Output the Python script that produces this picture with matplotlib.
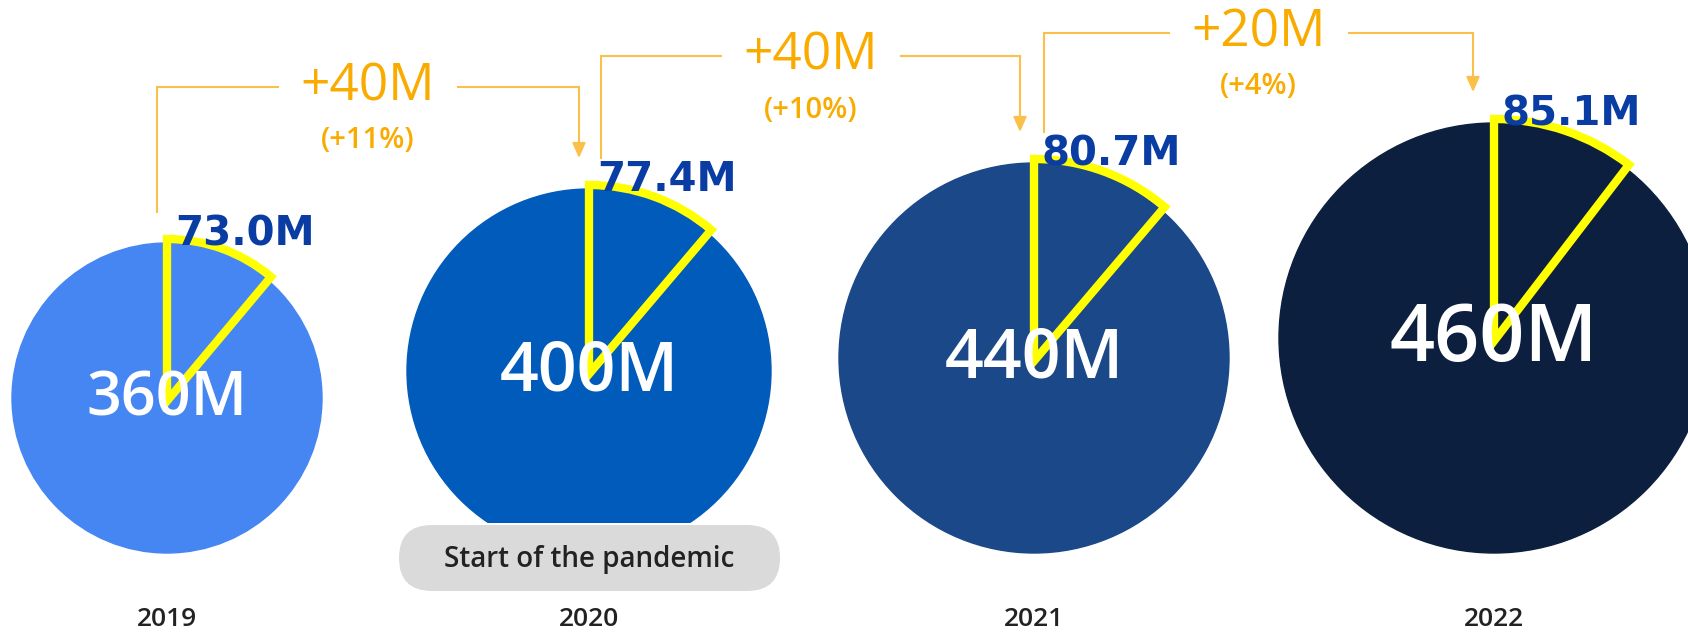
import matplotlib
matplotlib.use('Agg')
import matplotlib.pyplot as plt
from matplotlib.patches import Circle, Wedge, Rectangle, FancyBboxPatch

# data
years = ['2019', '2020', '2021', '2022']
users = [360, 400, 440, 460]              # total, millions
slice_values = [73.0, 77.4, 80.7, 85.1]   # highlighted slice, millions
slice_share = [0.111, 0.112, 0.112, 0.104]  # share of the circle the slice covers
growth_pct = ['(+11%)', '(+10%)', '(+4%)']
note = 'Start of the pandemic'

# layout (pixels, y pointing down)
W, H = 1688, 634
cx = [167, 589, 1034, 1494]
rad = [155, 182, 195, 215]
base = 553
cy = [base - r for r in rad]
label_pt = [44, 49, 49, 57]
circle_colors = ['#4586F3', '#005BBB', '#1A4888', '#0C1F3E']
bracket_y = [87, 56, 33]

ORANGE = '#F9AB00'
LINE = '#FBC04A'
NAVY = '#0A3DA3'
SANS = ['Open Sans', 'DejaVu Sans']

fig = plt.figure(figsize=(W / 100, H / 100), dpi=100)
ax = fig.add_axes([0, 0, 1, 1])
ax.set_xlim(0, W)
ax.set_ylim(H, 0)
ax.axis('off')

for i in range(len(years)):
    c = Circle((cx[i], cy[i]), rad[i], color=circle_colors[i], zorder=1)
    ax.add_patch(c)
    if i == 1:
        # pandemic pill cuts the bottom of the 2020 circle
        c.set_clip_path(Rectangle((0, 0), W, 523, transform=ax.transData))

    deg = slice_share[i] * 360
    ax.add_patch(Wedge((cx[i], cy[i] + 3), rad[i] + 7, 270, 270 + deg,
                       facecolor='none', edgecolor='#FFFF00', lw=6,
                       joinstyle='miter', zorder=2))

    ax.text(cx[i], cy[i] + 2, f'{users[i]}M', color='white', fontsize=label_pt[i],
            fontweight='semibold', family=SANS, ha='center', va='center', zorder=3)
    ax.text(cx[i] + 8, cy[i] - rad[i] + 2, f'{slice_values[i]:.1f}M', color=NAVY,
            fontsize=29, fontweight='bold', family='DejaVu Sans',
            ha='left', va='baseline', zorder=3)
    ax.text(cx[i], 620, years[i], color='#222222', fontsize=19,
            fontweight='semibold', family=SANS, ha='center', va='center')

# growth brackets between years
left_off = [-10, 12, 10]
right_off = [-10, -14, -21]
for i in range(3):
    x0 = cx[i] + left_off[i]
    x1 = cx[i + 1] + right_off[i]
    y = bracket_y[i]
    top0 = cy[i] - rad[i] - 31
    top1 = cy[i + 1] - rad[i + 1] - 31
    xm = (x0 + x1) / 2
    ax.plot([x0, x0, xm - 90], [top0, y, y], color=LINE, lw=1.5,
            solid_joinstyle='miter')
    ax.plot([xm + 90, x1, x1], [y, y, y + 1], color=LINE, lw=1.5,
            solid_joinstyle='miter')
    ax.annotate('', xy=(x1, top1), xytext=(x1, y),
                arrowprops=dict(arrowstyle='-|>,head_length=0.9,head_width=0.4',
                                color=LINE, lw=1.5, shrinkA=0, shrinkB=0))
    delta = users[i + 1] - users[i]
    ax.text(xm, y, f'+{delta}M', color=ORANGE, fontsize=37, family=SANS,
            ha='center', va='center')
    ax.text(xm, y + 54, growth_pct[i], color=ORANGE, fontsize=21,
            fontweight='semibold', family=SANS, ha='center', va='center')

# pandemic note
ax.add_patch(FancyBboxPatch((399, 525), 381, 66,
                            boxstyle='round,pad=0,rounding_size=33',
                            facecolor='#DADADA', edgecolor='none', zorder=4))
ax.text(589, 559, note, color='#222222', fontsize=20, fontweight='semibold',
        family=SANS, ha='center', va='center', zorder=5)

fig.savefig('out.png', dpi=100)
